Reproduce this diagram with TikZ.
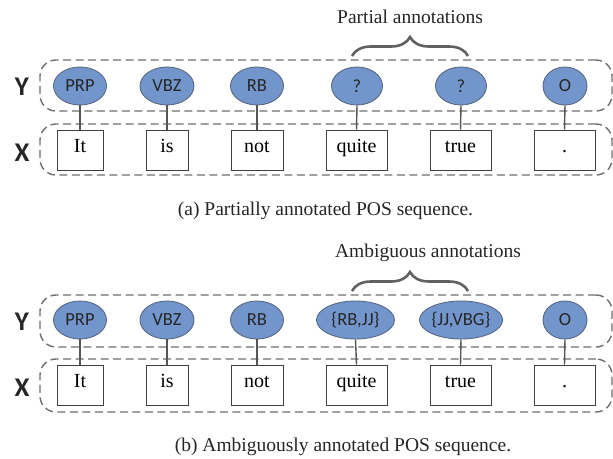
\documentclass[tikz,border=0pt]{standalone}
\usepackage{fontspec}
\setmainfont{Liberation Serif}
\newfontfamily\calib{Carlito}
\usetikzlibrary{shapes.geometric,decorations.pathreplacing}
\definecolor{tagfill}{RGB}{114,150,203}
\definecolor{tagline}{RGB}{88,104,132}
\definecolor{dashgray}{RGB}{110,110,110}
\definecolor{linkgray}{RGB}{85,85,85}
\tikzset{
  tag/.style={ellipse, draw=tagline, line width=0.9pt, fill=tagfill, minimum height=38pt, inner sep=0pt, font=\calib\fontsize{18.5}{20}\selectfont, text=black!85},
  word/.style={rectangle, draw=black!75, line width=0.9pt, fill=white, minimum height=40pt, inner sep=0pt, text height=0.68em, text depth=0.2em, font=\fontsize{20}{22}\selectfont},
  group/.style={draw=dashgray, line width=1.4pt, dash pattern=on 8pt off 4.5pt, rounded corners=16pt},
  axislabel/.style={font=\calib\bfseries\fontsize{27}{30}\selectfont, text=black!85},
  link/.style={draw=linkgray, line width=1.4pt},
  bracestyle/.style={draw=black!62, line width=2.6pt, decorate, decoration={brace, amplitude=19pt}},
  caption/.style={font=\fontsize{19.5}{22}\selectfont, text=black!85},
}
\begin{document}
\begin{tikzpicture}[x=1pt,y=-1pt]
\useasboundingbox (0,0) rectangle (613,458);

% ---------- panel (a) ----------
\node[group, minimum width=572pt, minimum height=51pt] (ga) at (326,85.5) {};
\node[group, minimum width=572pt, minimum height=51pt] (xa) at (326,149.5) {};
\node[axislabel] (ya) at (22,87) {Y};
\node[axislabel] (xla) at (22,153) {X};

\node[tag, minimum width=53pt] (a1) at (80,86) {PRP};
\node[tag, minimum width=54pt] (a2) at (167,86) {VBZ};
\node[tag, minimum width=53pt] (a3) at (257,86) {RB};
\node[tag, minimum width=51pt] (a4) at (357,86) {?};
\node[tag, minimum width=51pt] (a5) at (461,86) {?};
\node[tag, minimum width=44pt] (a6) at (565,86) {O};

\node[word, minimum width=46pt] (w1) at (80,150) {It};
\node[word, minimum width=42pt] (w2) at (167,150) {is};
\node[word, minimum width=52pt] (w3) at (257,150) {not};
\node[word, minimum width=61pt] (w4) at (356.5,150) {quite};
\node[word, minimum width=61pt] (w5) at (460.5,150) {true};
\node[word, minimum width=61pt] (w6) at (564.5,150) {.};

\foreach \i in {1,...,6} {\draw[link] (a\i.south) -- (w\i.north);}

\coordinate (ba1) at (352,56);
\coordinate (ba2) at (468,56);
\draw[bracestyle] (ba1) -- (ba2);
\node[caption] (pa) at (410,17) {Partial annotations};
\node[caption] (ca) at (325.5,211) {(a) Partially annotated POS sequence.};

% ---------- panel (b) ----------
\node[group, minimum width=572pt, minimum height=52pt] (gb) at (326,321) {};
\node[group, minimum width=572pt, minimum height=53pt] (xb) at (326,385.5) {};
\node[axislabel] (yb) at (22,322) {Y};
\node[axislabel] (xlb) at (22,388) {X};

\node[tag, minimum width=53pt] (b1) at (80,320) {PRP};
\node[tag, minimum width=54pt] (b2) at (167,320) {VBZ};
\node[tag, minimum width=53pt] (b3) at (257,320) {RB};
\node[tag, minimum width=78pt] (b4) at (355.5,320) {\{RB,JJ\}};
\node[tag, minimum width=79pt] (b5) at (461,320) {\{JJ,VBG\}};
\node[tag, minimum width=44pt] (b6) at (565,320) {O};

\node[word, minimum width=46pt] (v1) at (80,385) {It};
\node[word, minimum width=42pt] (v2) at (167,385) {is};
\node[word, minimum width=52pt] (v3) at (257,385) {not};
\node[word, minimum width=61pt] (v4) at (356.5,385) {quite};
\node[word, minimum width=61pt] (v5) at (460.5,385) {true};
\node[word, minimum width=61pt] (v6) at (564.5,385) {.};

\foreach \i in {1,...,6} {\draw[link] (b\i.south) -- (v\i.north);}

\coordinate (bb1) at (352,291);
\coordinate (bb2) at (468,291);
\draw[bracestyle] (bb1) -- (bb2);
\node[caption] (pb) at (428,253) {Ambiguous annotations};
\node[caption] (cb) at (343,447) {(b) Ambiguously annotated POS sequence.};
\end{tikzpicture}
\end{document}
